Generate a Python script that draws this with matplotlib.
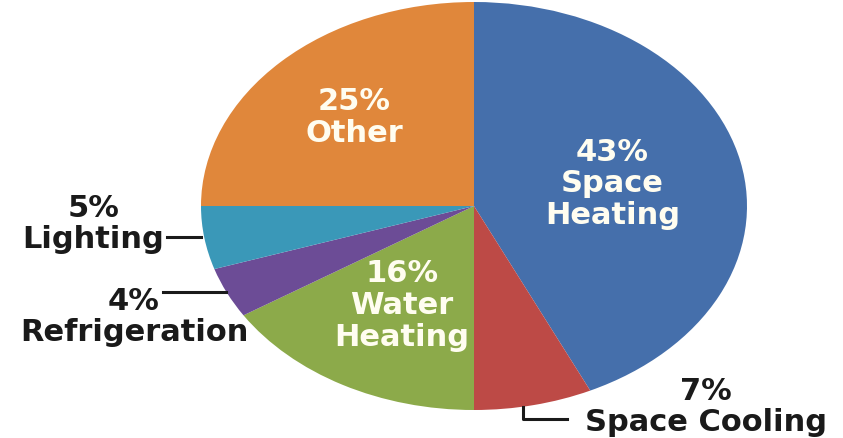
import numpy as np
import matplotlib
matplotlib.use("Agg")
import matplotlib.pyplot as plt

categories = ["Space Heating", "Space Cooling", "Water Heating", "Refrigeration", "Lighting", "Other"]
values = [43, 7, 16, 4, 5, 25]
colors = ["#456fab", "#bd4a46", "#8caa4a", "#6c4c96", "#3a98b8", "#e0873b"]
inside_labels = {"Space Heating": "43%\nSpace\nHeating", "Water Heating": "16%\nWater\nHeating", "Other": "25%\nOther"}
inside_radius = {"Space Heating": 0.52, "Water Heating": 0.55, "Other": 0.62}

W, H = 843, 439
cx, cy, rx, ry = 474, 207, 273, 204

fig = plt.figure(figsize=(W / 100, H / 100), dpi=100)
ax = fig.add_axes([0, 0, 1, 1])
wedges, _ = ax.pie(values, colors=colors, startangle=90, counterclock=False,
                   wedgeprops=dict(linewidth=0))
ax.set_aspect("auto")
ax.set_xlim(-cx / rx, (W - cx) / rx)
ax.set_ylim(-(H - cy) / ry, cy / ry)
ax.axis("off")

font = dict(family="DejaVu Sans", fontweight="bold", fontsize=22)
ls = 1.12

for w, cat in zip(wedges, categories):
    if cat in inside_labels:
        ang = np.deg2rad((w.theta1 + w.theta2) / 2)
        r = inside_radius[cat]
        ax.text(r * np.cos(ang), r * np.sin(ang), inside_labels[cat], color="#fffdf0",
                ha="center", va="center", multialignment="center", linespacing=ls, **font)

def px(x, y):
    return ((x - cx) / rx, (cy - y) / ry)

ink = "#1a1a1a"
# Lighting
ax.plot(*zip(px(167, 238), px(201, 238)), color=ink, lw=2.2)
ax.text(*px(164, 224), "5%\nLighting", ha="right", va="center", multialignment="center",
        linespacing=ls, color=ink, **font)
# Refrigeration
ax.plot(*zip(px(163, 293), px(226, 293)), color=ink, lw=2.2)
ax.text(*px(134, 317), "4%\nRefrigeration", ha="center", va="center", multialignment="center",
        linespacing=ls, color=ink, **font)
# Space Cooling
ax.plot(*zip(px(523, 408), px(523, 420), px(567, 420)), color=ink, lw=2.2)
ax.text(*px(706, 407), "7%\nSpace Cooling", ha="center", va="center", multialignment="center",
        linespacing=ls, color=ink, **font)

fig.savefig("out.png", dpi=100)
